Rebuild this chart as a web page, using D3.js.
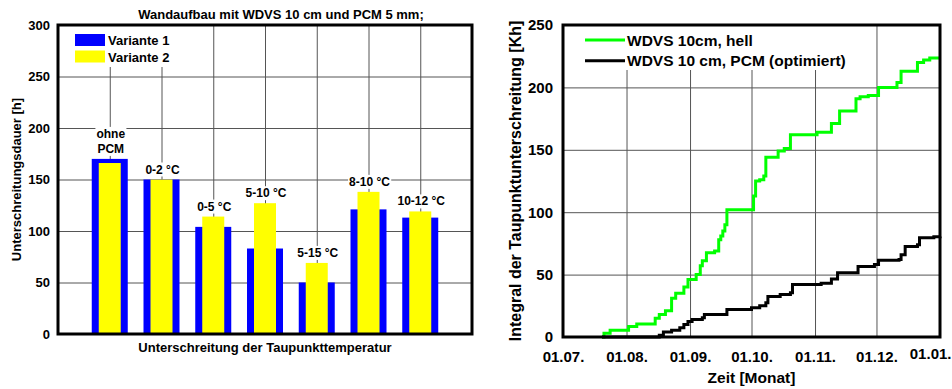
<!DOCTYPE html>
<html>
<head>
<meta charset="utf-8">
<script src="https://cdn.jsdelivr.net/npm/d3@7"></script>
<style>
  body { margin: 0; background: #fff; }
  svg text { font-family: "Liberation Sans", Arial, sans-serif; font-weight: bold; fill: #000; }
</style>
</head>
<body>
<svg id="chart" width="952" height="389"></svg>
<script>
// left chart data
const categories = ["ohne PCM", "0-2 °C", "0-5 °C", "5-10 °C", "5-15 °C", "8-10 °C", "10-12 °C"];
const barLabels = [["ohne", "PCM"], ["0-2 °C"], ["0-5 °C"], ["5-10 °C"], ["5-15 °C"], ["8-10 °C"], ["10-12 °C"]];
const variante1 = [170, 150, 104, 83, 50, 121, 113];
const variante2 = [166, 150, 114, 127, 69, 138, 119];
const leftTicks = [0, 50, 100, 150, 200, 250, 300];

// right chart data (cumulative, stepwise)
const hellDates = ["2000-07-20","2000-07-21","2000-07-24","2000-08-02","2000-08-06","2000-08-15","2000-08-17","2000-08-20",
  "2000-08-23","2000-08-25","2000-08-29","2000-08-31","2000-09-04","2000-09-06","2000-09-07","2000-09-09","2000-09-13",
  "2000-09-15","2000-09-16","2000-09-17","2000-09-18","2000-09-19","2000-10-02","2000-10-03","2000-10-05","2000-10-07",
  "2000-10-08","2000-10-14","2000-10-17","2000-10-20","2000-11-02","2000-11-09","2000-11-13","2000-11-21","2000-11-23",
  "2000-11-27","2000-12-02","2000-12-11","2000-12-13","2000-12-21","2000-12-24","2000-12-27","2001-01-01"];
const hellValues = [0, 3, 5.5, 8.5, 10.5, 15, 18, 21,
  31, 35, 40, 46, 50, 57, 61, 67.5, 69,
  78, 81, 85, 90, 102, 113, 125, 126, 129,
  144, 149, 151, 162, 164, 171, 181, 191, 192.5,
  193.5, 200, 204, 213, 220, 222, 223.5, 223.5];
const pcmDates = ["2000-07-20","2000-08-17","2000-08-19","2000-08-23","2000-08-27","2000-08-29","2000-08-31","2000-09-02",
  "2000-09-07","2000-09-08","2000-09-19","2000-10-01","2000-10-05","2000-10-08","2000-10-09","2000-10-15","2000-10-20",
  "2000-10-21","2000-11-04","2000-11-09","2000-11-12","2000-11-22","2000-11-30","2000-12-02","2000-12-12","2000-12-13",
  "2000-12-15","2000-12-21","2000-12-22","2000-12-29","2001-01-01"];
const pcmValues = [0, 1.5, 4, 5.5, 7.5, 10, 12.5, 14,
  15.5, 18, 22, 23.5, 25, 27.5, 32.5, 34, 35.5,
  42, 43, 46.5, 51.5, 56.5, 58, 61.5, 62, 66,
  72.5, 74, 79.5, 80.3, 80.5];
const rightTicks = [0, 50, 100, 150, 200, 250];
const seriesNames = ["WDVS 10cm, hell", "WDVS 10 cm, PCM (optimiert)"];

const svg = d3.select("#chart");
const gridColor = "#555";

// ---------- left chart ----------
const L = { left: 58, right: 472, top: 25, bottom: 334 };
const x1 = d3.scalePoint().domain(categories).range([L.left, L.right]).padding(1);
const y1 = d3.scaleLinear().domain([0, 300]).range([L.bottom, L.top]);

const gl = svg.append("g");

gl.append("g")
  .attr("transform", `translate(${L.left},0)`)
  .call(d3.axisLeft(y1).tickValues(leftTicks).tickSize(-(L.right - L.left)).tickPadding(8))
  .call(g => g.select(".domain").remove())
  .call(g => g.selectAll("line").attr("stroke", gridColor))
  .call(g => g.selectAll("text").style("font-size", "13px"));

gl.append("g")
  .attr("transform", `translate(0,${L.bottom})`)
  .call(d3.axisBottom(x1).tickSize(-(L.bottom - L.top)).tickFormat(""))
  .call(g => g.select(".domain").remove())
  .call(g => g.selectAll("line").attr("stroke", gridColor));

// legend box hides grid
gl.append("rect").attr("x", L.left + 1).attr("y", L.top + 1).attr("width", 113).attr("height", 41).attr("fill", "#fff");

gl.selectAll(".b1").data(variante1).enter().append("rect")
  .attr("x", (d, i) => x1(categories[i]) - 18)
  .attr("width", 36)
  .attr("y", d => y1(d))
  .attr("height", d => y1(0) - y1(d))
  .attr("fill", "#0000ff");

gl.selectAll(".b2").data(variante2).enter().append("rect")
  .attr("x", (d, i) => x1(categories[i]) - 11)
  .attr("width", 22)
  .attr("y", d => y1(d))
  .attr("height", d => y1(0) - y1(d))
  .attr("fill", "#ffff00");

// bar labels with white background
barLabels.forEach((lines, i) => {
  const top = y1(Math.max(variante1[i], variante2[i]));
  const cx = x1(categories[i]) + 1;
  const t = gl.append("text").attr("text-anchor", "middle").style("font-size", "12px");
  lines.forEach((s, k) => {
    t.append("tspan").attr("x", cx).attr("y", top - 6 - (lines.length - 1 - k) * 15).text(s);
  });
  const bb = t.node().getBBox();
  gl.insert("rect", () => t.node())
    .attr("x", bb.x - 1).attr("y", bb.y).attr("width", bb.width + 2).attr("height", bb.height)
    .attr("fill", "#fff");
});

gl.append("rect")
  .attr("x", L.left).attr("y", L.top)
  .attr("width", L.right - L.left).attr("height", L.bottom - L.top)
  .attr("fill", "none").attr("stroke", "#000").attr("stroke-width", 3);

// legend
const leg1 = [["Variante 1", "#0000ff"], ["Variante 2", "#ffff00"]];
leg1.forEach((d, i) => {
  gl.append("rect").attr("x", 75).attr("y", 34 + i * 16.5).attr("width", 30).attr("height", 12).attr("fill", d[1]);
  gl.append("text").attr("x", 108).attr("y", 45 + i * 16.5).style("font-size", "13px").text(d[0]);
});

gl.append("text").attr("x", 281).attr("y", 18.5).attr("text-anchor", "middle").style("font-size", "13px")
  .text("Wandaufbau mit WDVS 10 cm und PCM 5 mm;");
gl.append("text").attr("x", (L.left + L.right) / 2).attr("y", 351.5).attr("text-anchor", "middle").style("font-size", "13px")
  .text("Unterschreitung der Taupunkttemperatur");
gl.append("text").attr("transform", `translate(20.5,${(L.top + L.bottom) / 2}) rotate(-90)`)
  .attr("text-anchor", "middle").style("font-size", "13px")
  .text("Unterschreitungsdauer  [h]");

// ---------- right chart ----------
const R = { left: 563, right: 940, top: 25, bottom: 337 };
const parse = d3.timeParse("%Y-%m-%d");
const x2 = d3.scaleTime().domain([parse("2000-07-01"), parse("2001-01-01")]).range([R.left, R.right]);
const y2 = d3.scaleLinear().domain([0, 250]).range([R.bottom, R.top]);

const gr = svg.append("g");

gr.append("g")
  .attr("transform", `translate(${R.left},0)`)
  .call(d3.axisLeft(y2).tickValues(rightTicks).tickSize(-(R.right - R.left)).tickPadding(10))
  .call(g => g.select(".domain").remove())
  .call(g => g.selectAll("line").attr("stroke", gridColor))
  .call(g => g.selectAll("text").style("font-size", "15px"));

gr.append("g")
  .attr("transform", `translate(0,${R.bottom})`)
  .call(d3.axisBottom(x2).ticks(d3.timeMonth.every(1)).tickFormat(d3.timeFormat("%d.%m.")).tickSize(-(R.bottom - R.top)).tickPadding(14))
  .call(g => g.select(".domain").remove())
  .call(g => g.selectAll("line").attr("stroke", gridColor))
  .call(g => g.selectAll("text").style("font-size", "15px"))
  // last label sits at the right edge; keep it inside the page
  .call(g => g.selectAll(".tick:last-of-type text").attr("text-anchor", "end").attr("x", 951 - R.right).attr("dy", "0.55em"));

gr.append("rect").attr("x", R.left + 1).attr("y", R.top + 1).attr("width", 287).attr("height", 44).attr("fill", "#fff");

const line = d3.line().curve(d3.curveStepAfter).x(d => x2(d[0])).y(d => y2(d[1]));
const hell = hellDates.map((d, i) => [parse(d), hellValues[i]]);
const pcm = pcmDates.map((d, i) => [parse(d), pcmValues[i]]);

gr.append("path").datum(hell).attr("d", line).attr("fill", "none").attr("stroke", "#00ff00").attr("stroke-width", 3);
gr.append("path").datum(pcm).attr("d", line).attr("fill", "none").attr("stroke", "#000").attr("stroke-width", 3);

gr.append("rect")
  .attr("x", R.left).attr("y", R.top)
  .attr("width", R.right - R.left).attr("height", R.bottom - R.top)
  .attr("fill", "none").attr("stroke", "#000").attr("stroke-width", 3);

[["#00ff00", 0], ["#000", 1]].forEach(([c, i]) => {
  gr.append("line").attr("x1", 585).attr("x2", 625).attr("y1", 40 + i * 20.7).attr("y2", 40 + i * 20.7)
    .attr("stroke", c).attr("stroke-width", 3);
  gr.append("text").attr("x", 627).attr("y", 45.5 + i * 20.7).style("font-size", "15.5px").text(seriesNames[i]);
});

gr.append("text").attr("x", (R.left + R.right) / 2).attr("y", 382.5).attr("text-anchor", "middle").style("font-size", "15.5px")
  .text("Zeit [Monat]");
gr.append("text").attr("transform", `translate(521,${(R.top + R.bottom) / 2}) rotate(-90)`)
  .attr("text-anchor", "middle").style("font-size", "16px")
  .text("Integral der Taupunktunterschreitung [Kh]");
</script>
</body>
</html>
